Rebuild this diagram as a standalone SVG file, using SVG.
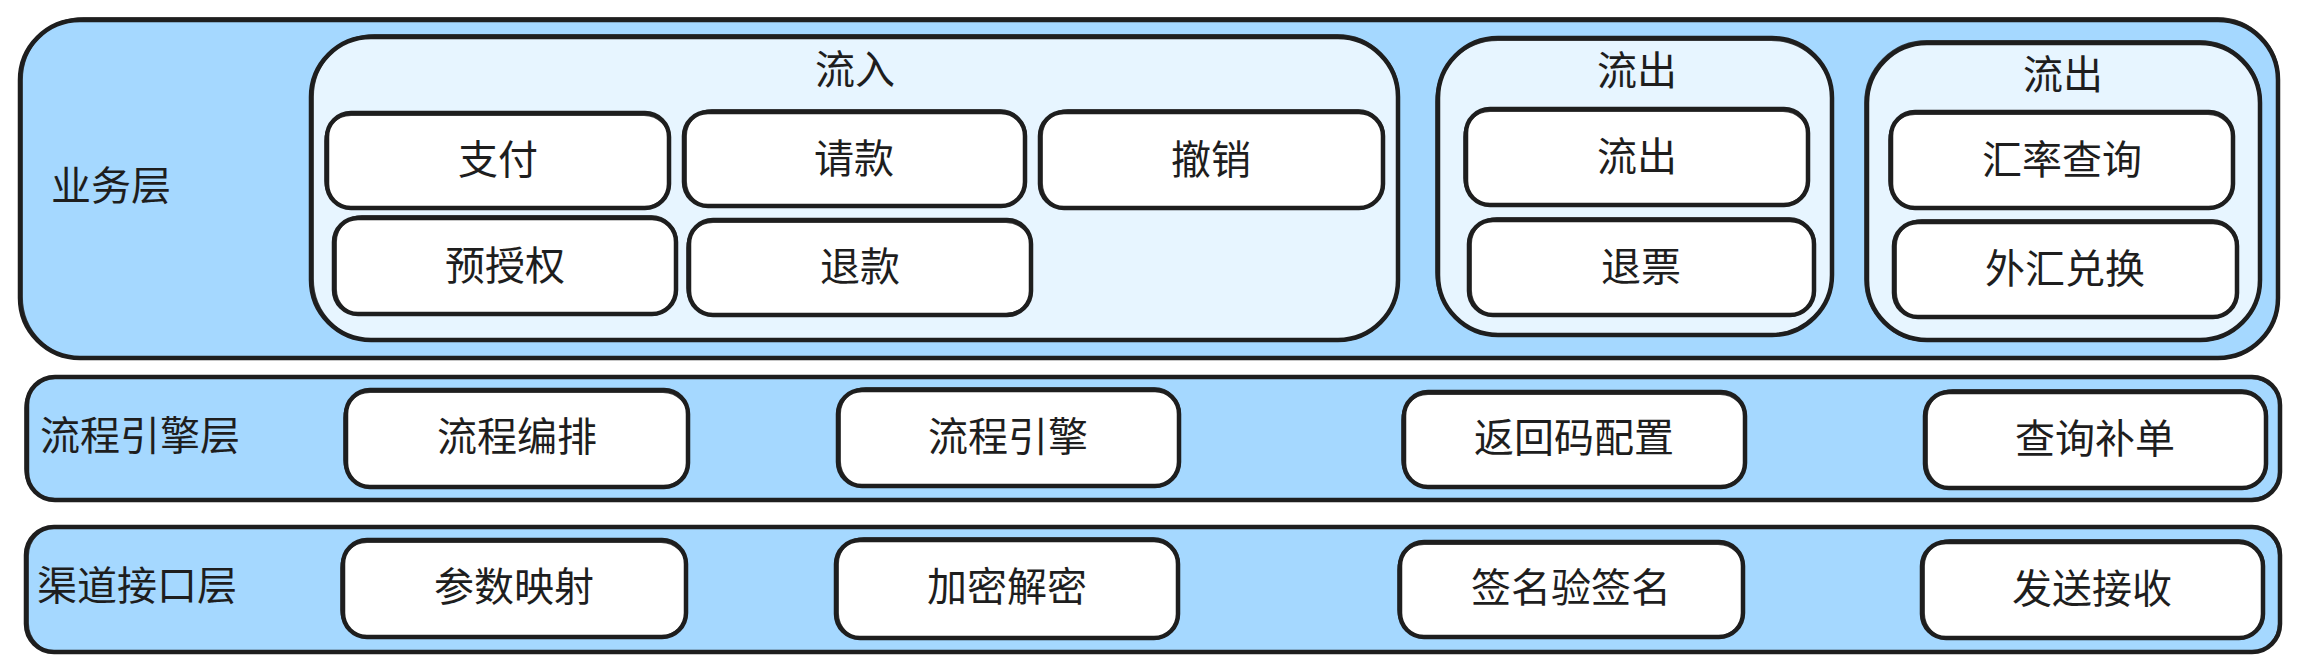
<svg xmlns="http://www.w3.org/2000/svg" width="2305" height="670" viewBox="0 0 2305 670">
<style>
.layer{fill:#a5d8ff;stroke:#1e1e1e;stroke-width:4.5}
.group{fill:#e7f5ff;stroke:#1e1e1e;stroke-width:4.5}
.box{fill:#ffffff;stroke:#1e1e1e;stroke-width:4.5}
.sk{fill:none;stroke:#1e1e1e;stroke-width:1.8;opacity:0.85}
text{font-family:"Noto Sans CJK SC","Noto Sans",sans-serif;font-size:40px;fill:#1e1e1e;dominant-baseline:central}
.c{text-anchor:middle}
</style>
<rect width="2305" height="670" fill="#ffffff"/>
<g id="layer-business">
<rect class="layer" x="20" y="20" width="2258" height="338" rx="60"/>
<rect class="sk" x="22" y="18" width="2257" height="341" rx="62"/>
<text x="51" y="183">业务层</text>
</g>
<g id="layer-engine">
<rect class="layer" x="27" y="377" width="2253" height="123" rx="28"/>
<rect class="sk" x="25" y="378" width="2256" height="121" rx="30"/>
<text x="40" y="433">流程引擎层</text>
</g>
<g id="layer-channel">
<rect class="layer" x="26" y="527" width="2254" height="125" rx="28"/>
<rect class="sk" x="28" y="526" width="2251" height="127" rx="30"/>
<text x="37" y="583">渠道接口层</text>
</g>
<g id="group-inflow">
<rect class="group" x="311" y="37" width="1087" height="303" rx="60"/>
<rect class="sk" x="313" y="35" width="1086" height="306" rx="62"/>
<text class="c" x="855" y="67">流入</text>
</g>
<g id="group-outflow">
<rect class="group" x="1438" y="38" width="394" height="297" rx="60"/>
<rect class="sk" x="1436" y="40" width="397" height="294" rx="62"/>
<text class="c" x="1637" y="68">流出</text>
</g>
<g id="group-outflow-fx">
<rect class="group" x="1867" y="43" width="393" height="297" rx="60"/>
<rect class="sk" x="1865" y="41" width="396" height="300" rx="62"/>
<text class="c" x="2063" y="72">流出</text>
</g>
<g id="node-pay"><rect class="box" x="327" y="113" width="342" height="95" rx="24"/><rect class="sk" x="325" y="115" width="345" height="92" rx="26"/><text class="c" x="498" y="157">支付</text></g>
<g id="node-preauth"><rect class="box" x="334" y="218" width="342" height="96" rx="24"/><rect class="sk" x="336" y="216" width="341" height="99" rx="26"/><text class="c" x="505" y="263">预授权</text></g>
<g id="node-request"><rect class="box" x="684" y="112" width="341" height="94" rx="24"/><rect class="sk" x="686" y="110" width="340" height="97" rx="26"/><text class="c" x="854" y="156">请款</text></g>
<g id="node-refund"><rect class="box" x="689" y="220" width="342" height="95" rx="24"/><rect class="sk" x="687" y="222" width="345" height="92" rx="26"/><text class="c" x="860" y="264">退款</text></g>
<g id="node-cancel"><rect class="box" x="1040" y="112" width="343" height="96" rx="24"/><rect class="sk" x="1042" y="110" width="342" height="99" rx="26"/><text class="c" x="1211" y="157">撤销</text></g>
<g id="node-outflow"><rect class="box" x="1466" y="109" width="342" height="96" rx="24"/><rect class="sk" x="1464" y="111" width="345" height="93" rx="26"/><text class="c" x="1637" y="154">流出</text></g>
<g id="node-ticket-refund"><rect class="box" x="1469" y="220" width="345" height="95" rx="24"/><rect class="sk" x="1471" y="218" width="344" height="98" rx="26"/><text class="c" x="1641" y="264">退票</text></g>
<g id="node-rate-query"><rect class="box" x="1891" y="112" width="342" height="96" rx="24"/><rect class="sk" x="1889" y="114" width="345" height="93" rx="26"/><text class="c" x="2062" y="157">汇率查询</text></g>
<g id="node-fx-exchange"><rect class="box" x="1894" y="222" width="343" height="95" rx="24"/><rect class="sk" x="1896" y="220" width="342" height="98" rx="26"/><text class="c" x="2065" y="266">外汇兑换</text></g>
<g id="node-orchestration"><rect class="box" x="346" y="390" width="342" height="97" rx="24"/><rect class="sk" x="344" y="392" width="345" height="94" rx="26"/><text class="c" x="517" y="434">流程编排</text></g>
<g id="node-engine"><rect class="box" x="838" y="390" width="341" height="96" rx="24"/><rect class="sk" x="840" y="388" width="340" height="99" rx="26"/><text class="c" x="1008" y="434">流程引擎</text></g>
<g id="node-return-code"><rect class="box" x="1404" y="392" width="341" height="95" rx="24"/><rect class="sk" x="1402" y="394" width="344" height="92" rx="26"/><text class="c" x="1574" y="435">返回码配置</text></g>
<g id="node-query-resupply"><rect class="box" x="1925" y="392" width="341" height="96" rx="24"/><rect class="sk" x="1927" y="390" width="340" height="99" rx="26"/><text class="c" x="2095" y="436">查询补单</text></g>
<g id="node-param-map"><rect class="box" x="343" y="540" width="343" height="97" rx="24"/><rect class="sk" x="341" y="542" width="346" height="94" rx="26"/><text class="c" x="514" y="584">参数映射</text></g>
<g id="node-crypto"><rect class="box" x="836" y="540" width="342" height="98" rx="24"/><rect class="sk" x="838" y="538" width="341" height="101" rx="26"/><text class="c" x="1007" y="584">加密解密</text></g>
<g id="node-sign"><rect class="box" x="1400" y="542" width="343" height="95" rx="24"/><rect class="sk" x="1398" y="544" width="346" height="92" rx="26"/><text class="c" x="1571" y="585">签名验签名</text></g>
<g id="node-send-recv"><rect class="box" x="1922" y="542" width="341" height="96" rx="24"/><rect class="sk" x="1924" y="540" width="340" height="99" rx="26"/><text class="c" x="2092" y="586">发送接收</text></g>
<g id="connectors"></g>
</svg>
